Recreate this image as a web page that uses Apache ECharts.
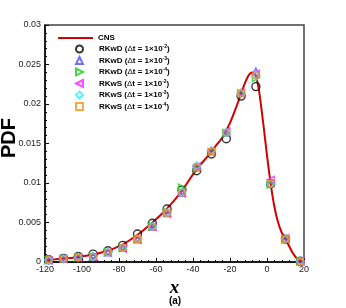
<!DOCTYPE html>
<html><head><meta charset="utf-8">
<script src="https://cdn.jsdelivr.net/npm/echarts@6/dist/echarts.min.js"></script>
<style>html,body{margin:0;padding:0;background:#fff}#c{width:346px;height:308px}</style>
</head><body><div id="c"></div>
<script>
// CNS reference curve
const cnsX = [-120,-116,-112,-108,-104,-100,-96,-92,-88,-84,-80,-76,-72,-68,-64,-60,-56,-52,-48,-44,-40,-36,-32,-28,-24,-20,-16,-14,-12,-10,-9,-8,-7,-6,-5,-4,-2,0,2,4,6,8,10,12,14,16,18,20];
const cnsY = [0.0002,0.0003,0.0004,0.00048,0.00058,0.0007,0.00085,0.00105,0.0013,0.0016,0.002,0.0025,0.0031,0.0038,0.0046,0.0054,0.0063,0.0073,0.0084,0.0097,0.0111,0.0123,0.0134,0.0146,0.0158,0.0176,0.0200,0.0213,0.0226,0.0236,0.0239,0.0240,0.0239,0.0235,0.0226,0.0212,0.0175,0.0135,0.0099,0.0070,0.0050,0.0037,0.0029,0.0020,0.0011,0.0005,0.0002,0.0001];
// Sample locations
const sx = [-118,-110,-102,-94,-86,-78,-70,-62,-54,-46,-38,-30,-22,-14,-6,2,10,18];
const rkwd2 = [0.00028,0.00045,0.0007,0.001,0.00143,0.0021,0.00354,0.0049,0.0067,0.0091,0.01156,0.01367,0.0156,0.0210,0.0222,0.0099,0.0029,0.0001];
const rkwd3 = [0.00025,0.00042,0.0006,0.00068,0.00122,0.0018,0.00287,0.00447,0.0062,0.0088,0.0120,0.0140,0.0164,0.0214,0.0241,0.0100,0.0029,0.0001];
const rkwd4 = [0.00025,0.00042,0.0006,0.00068,0.00125,0.0018,0.0029,0.0045,0.0063,0.0094,0.0118,0.0139,0.0163,0.0213,0.0233,0.0098,0.0029,0.0001];
const rkws2 = [0.00022,0.0004,0.00058,0.00065,0.0012,0.0017,0.0028,0.0044,0.0061,0.0087,0.0121,0.0140,0.0165,0.0214,0.0238,0.0104,0.0030,0.0001];
const rkws3 = [0.00025,0.00042,0.0006,0.0007,0.00125,0.0018,0.0029,0.0045,0.0062,0.0089,0.0122,0.0141,0.0164,0.0213,0.0235,0.0099,0.0029,0.0001];
const rkws4 = [0.00025,0.00042,0.0006,0.00068,0.00122,0.0018,0.00287,0.00447,0.0062,0.0088,0.0120,0.0140,0.0164,0.0214,0.0237,0.0099,0.0029,0.0001];
const xTicks = [-120,-100,-80,-60,-40,-20,0,20];
const yTicks = [0,0.005,0.01,0.015,0.02,0.025,0.03];

const zip = (xs, ys) => xs.map((v, i) => [v, ys[i]]);
const chart = echarts.init(document.getElementById('c'), null, {renderer: 'canvas'});
const labels = {
  'CNS': 'CNS',
  'RKwD2': 'RKwD ({d|Δ}t = 1×10{s|-2})',
  'RKwD3': 'RKwD ({d|Δ}t = 1×10{s|-3})',
  'RKwD4': 'RKwD ({d|Δ}t = 1×10{s|-4})',
  'RKwS2': 'RKwS ({d|Δ}t = 1×10{s|-2})',
  'RKwS3': 'RKwS ({d|Δ}t = 1×10{s|-3})',
  'RKwS4': 'RKwS ({d|Δ}t = 1×10{s|-4})'
};
function sc(name, data, symbol, color, size) {
  return {
    name, type: 'scatter', data: zip(sx, data), symbol, symbolSize: size,
    itemStyle: {color: 'rgba(255,255,255,0)', borderColor: color, borderWidth: 1.4},
    z: 3
  };
}
const fontFam = '"Liberation Sans", Arial, sans-serif';
const legendText = {fontFamily: fontFam, fontSize: 8, fontWeight: 'bold', color: '#000', lineHeight: 9,
  rich: {d: {fontFamily: fontFam, fontSize: 8, fontWeight: 'normal', color: '#000', lineHeight: 9},
         s: {fontFamily: fontFam, fontSize: 5, verticalAlign: 'top', padding: [0,0,3,0], color: '#000', lineHeight: 9}}};
chart.setOption({
  animation: false,
  grid: {left: 45, top: 25, right: 42, bottom: 46, containLabel: false, outerBoundsMode: 'none',
    show: true, borderColor: '#444', borderWidth: 1.5},
  legend: [{
    orient: 'vertical', left: 58, top: 33.5, padding: 0, itemWidth: 35, itemHeight: 2.2,
    data: [{name: 'CNS', icon: 'rect'}],
    formatter: n => labels[n], textStyle: legendText
  }, {
    orient: 'vertical', left: 75, top: 44.5, padding: 0, itemWidth: 7, itemHeight: 7, itemGap: 2.5,
    data: ['RKwD2','RKwD3','RKwD4','RKwS2','RKwS3','RKwS4'],
    formatter: n => labels[n],
    textStyle: Object.assign({}, legendText, {padding: [0,0,0,11]})
  }],
  xAxis: {
    type: 'value', min: -120, max: 20, interval: 20,
    axisLine: {onZero: false, lineStyle: {color: '#000', width: 1.5}},
    axisTick: {inside: true, length: 4, lineStyle: {color: '#000'}},
    minorTick: {show: true, splitNumber: 5, length: 2, lineStyle: {color: '#000'}},
    splitLine: {show: false},
    axisLabel: {fontFamily: fontFam, fontSize: 9, color: '#222', margin: 3,
      formatter: v => xTicks.includes(v) ? String(v) : ''},
    name: 'x', nameLocation: 'middle', nameGap: 6,
    nameTextStyle: {fontFamily: '"Liberation Serif", "DejaVu Serif", serif', fontStyle: 'italic', fontWeight: 'bold', fontSize: 19, color: '#000'}
  },
  yAxis: {
    type: 'value', min: 0, max: 0.03, interval: 0.005,
    axisLine: {onZero: false, lineStyle: {color: '#000', width: 1.5}},
    axisTick: {inside: true, length: 4, lineStyle: {color: '#000'}},
    minorTick: {show: true, splitNumber: 5, length: 2, lineStyle: {color: '#000'}},
    splitLine: {show: false},
    axisLabel: {fontFamily: fontFam, fontSize: 9, color: '#222', margin: 4,
      formatter: v => { const t = yTicks.find(k => Math.abs(k - v) < 1e-9); return t === undefined ? '' : String(+t.toFixed(3)); }}
  },
  graphic: [
    {type: 'text', x: 9, y: 138, rotation: Math.PI / 2,
      style: {text: 'PDF', fontFamily: fontFam, fontWeight: 'bold', fontSize: 20, fill: '#000', align: 'center', verticalAlign: 'middle'}},
    {type: 'text', x: 175, y: 301,
      style: {text: '(a)', fontFamily: fontFam, fontWeight: 'bold', fontSize: 10, fill: '#000', align: 'center', verticalAlign: 'middle'}}
  ],
  series: [
    {name: 'CNS', type: 'line', data: zip(cnsX, cnsY), symbol: 'none', smooth: 0.3,
      lineStyle: {color: '#d40000', width: 2}, itemStyle: {color: '#d40000'}, z: 2},
    sc('RKwD2', rkwd2, 'circle', '#000000', 8),
    sc('RKwD3', rkwd3, 'triangle', '#4a4aff', 7),
    sc('RKwD4', rkwd4, 'path://M0,0 L10,5 L0,10 Z', '#1ec81e', 7),
    sc('RKwS2', rkws2, 'path://M10,0 L0,5 L10,10 Z', '#ff22ff', 7),
    sc('RKwS3', rkws3, 'diamond', '#33eeff', 8),
    sc('RKwS4', rkws4, 'rect', '#ff8c1a', 6)
  ]
});
</script></body></html>
